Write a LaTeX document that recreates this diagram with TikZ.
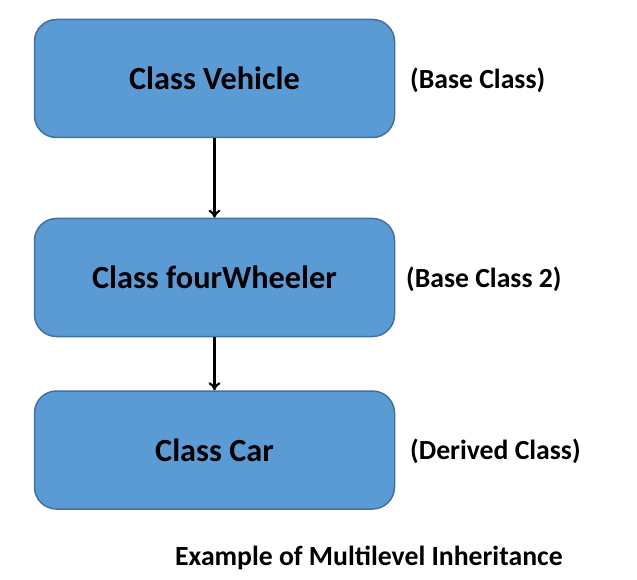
\documentclass[tikz,border=0pt]{standalone}
\usepackage{fontspec}
\setmainfont{Carlito}
\usetikzlibrary{arrows.meta}
\definecolor{boxfill}{HTML}{5B9BD5}
\definecolor{boxline}{HTML}{41719C}
\begin{document}
\begin{tikzpicture}[x=1pt,y=-1pt,
  classbox/.style={draw=boxline, line width=1.5pt, fill=boxfill, rounded corners=22pt,
    minimum width=360pt, minimum height=118pt, inner sep=0pt,
    font=\bfseries\fontsize{32.3}{38}\selectfont},
  sidelabel/.style={anchor=west, inner sep=0pt, font=\bfseries\fontsize{27.7}{32}\selectfont},
  inh/.style={-{To[length=8pt,width=12pt]}, line width=2.2pt, black}]
\useasboundingbox (0,0) rectangle (637,580);
\node[classbox] (veh) at (214.5,78.5) {Class Vehicle};
\node[classbox] (four) at (214.5,277.5) {Class fourWheeler};
\node[classbox] (car) at (214.5,450) {Class Car};
\node[sidelabel] (l1) at (410,80) {(Base Class)};
\node[sidelabel] (l2) at (406,279) {(Base Class 2)};
\node[sidelabel] (l3) at (410,451) {(Derived Class)};
\node[inner sep=0pt, anchor=west, font=\bfseries\fontsize{27.7}{32}\selectfont] (cap) at (175,558) {Example of Multilevel Inheritance};
\draw[inh] (veh.south) -- (four.north);
\draw[inh] (four.south) -- (car.north);
\end{tikzpicture}
\end{document}
